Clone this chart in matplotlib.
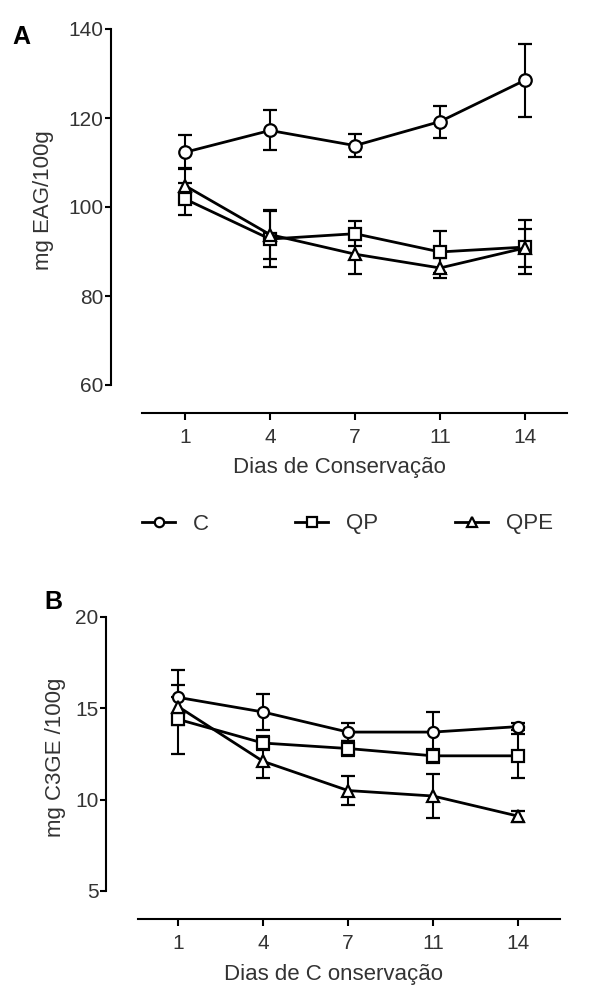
import matplotlib
matplotlib.use('Agg')
import numpy as np
from matplotlib import pyplot as plt

# --- data ---
days = ['1', '4', '7', '11', '14']

# panel A : phenolics (mg EAG/100g)
c_a = [112.3, 117.2, 113.8, 119.2, 128.5]
c_a_err = [3.8, 4.5, 2.5, 3.6, 8.2]
qp_a = [101.8, 92.8, 94.0, 89.9, 91.0]
qp_a_err = [3.5, 6.3, 2.8, 4.7, 6.0]
qpe_a = [104.8, 93.8, 89.4, 86.3, 90.8]
qpe_a_err = [4.0, 5.5, 4.4, 2.2, 4.2]

# panel B : anthocyanins (mg C3GE/100g)
c_b = [15.6, 14.8, 13.7, 13.7, 14.0]
c_b_err = [1.5, 1.0, 0.5, 1.1, 0.2]
qp_b = [14.4, 13.1, 12.8, 12.4, 12.4]
qp_b_err = [1.9, 0.4, 0.4, 0.4, 1.2]
qpe_b = [15.1, 12.1, 10.5, 10.2, 9.1]
qpe_b_err = [0.5, 0.9, 0.8, 1.2, 0.3]

groups = ['C', 'QP', 'QPE']
markers = ['o', 's', '^']

plt.rcParams['font.family'] = ['Liberation Sans', 'DejaVu Sans']

W, H = 611, 986
fig = plt.figure(figsize=(W / 100, H / 100), dpi=100)


def px_axes(left, top, right, bottom):
    return fig.add_axes([left / W, 1 - bottom / H, (right - left) / W, (bottom - top) / H])


def style_axes(ax, xlim, ylim, yticks, line_start, line_end):
    ax.set_xlim(*xlim)
    ax.set_ylim(*ylim)
    for s in ['top', 'right']:
        ax.spines[s].set_visible(False)
    ax.spines['left'].set_bounds(yticks[0], yticks[-1])
    ax.spines['bottom'].set_bounds(line_start, line_end)
    for s in ['left', 'bottom']:
        ax.spines[s].set_linewidth(1.5)
    ax.set_yticks(yticks)
    ax.set_xticks(range(len(days)))
    ax.set_xticklabels(days)
    ax.tick_params(axis='y', length=4.5, width=1.5, pad=1, labelsize=15)
    ax.tick_params(axis='x', length=5, width=1.5, pad=6, labelsize=15)
    for t in ax.get_yticklabels() + ax.get_xticklabels():
        t.set_color('#333333')


def draw(ax, series, errs, ms, lw):
    x = np.arange(len(days))
    handles = []
    for vals, err, m, name in zip(series, errs, markers, groups):
        h = ax.errorbar(x, vals, yerr=err, fmt='-', marker=m, color='black',
                        mfc='white', mec='black', ms=ms, mew=1.6, lw=lw,
                        elinewidth=1.5, capsize=5, capthick=1.5, label=name)
        handles.append(h.lines[0])
    return handles


x_per_px = 1 / 85

# panel A
axA = px_axes(111, 29, 567, 413)
y_per_px = (140 - 60) / (385 - 29)
ybottom_a = 60 - (413 - 385) * y_per_px
style_axes(axA, ((111 - 185) * x_per_px, (567 - 185) * x_per_px),
           (ybottom_a, 140), [60, 80, 100, 120, 140],
           (142 - 185) * x_per_px, (567 - 185) * x_per_px)
hA = draw(axA, [c_a, qp_a, qpe_a], [c_a_err, qp_a_err, qpe_a_err], 9, 2.0)
axA.set_xlabel('Dias de Conservação', fontsize=16, color='#333333', labelpad=7)
fig.text(43 / W, 1 - 200 / H, 'mg EAG/100g', rotation=90, ha='center', va='center',
         fontsize=16, color='#333333')
fig.text(21 / W, 1 - 37 / H, 'A', ha='center', va='center', fontsize=18, fontweight='bold')

# panel B
axB = px_axes(106, 617, 560, 919)
y_per_px_b = (20 - 5) / (891 - 617)
ybottom_b = 5 - (919 - 891) * y_per_px_b
style_axes(axB, ((106 - 178) * x_per_px, (560 - 178) * x_per_px),
           (ybottom_b, 20), [5, 10, 15, 20],
           (138 - 178) * x_per_px, (560 - 178) * x_per_px)
draw(axB, [c_b, qp_b, qpe_b], [c_b_err, qp_b_err, qpe_b_err], 8, 2.0)
axB.set_xlabel('Dias de C onservação', fontsize=16, color='#333333', labelpad=8)
fig.text(55 / W, 1 - 757 / H, 'mg C3GE /100g', rotation=90, ha='center', va='center',
         fontsize=16, color='#333333')
fig.text(53 / W, 1 - 602 / H, 'B', ha='center', va='center', fontsize=18, fontweight='bold')

# legend row between the panels, one entry per group
for h, name, left in zip(hA, groups, [142, 295, 455]):
    leg = fig.legend([h], [name], loc='center left', bbox_to_anchor=(left / W, 1 - 524 / H),
                     frameon=False, fontsize=16, handlelength=1.5, handletextpad=0.8,
                     borderpad=0, borderaxespad=0, markerscale=0.75)
    for t in leg.get_texts():
        t.set_color('#333333')

fig.savefig('out.png', dpi=100)
